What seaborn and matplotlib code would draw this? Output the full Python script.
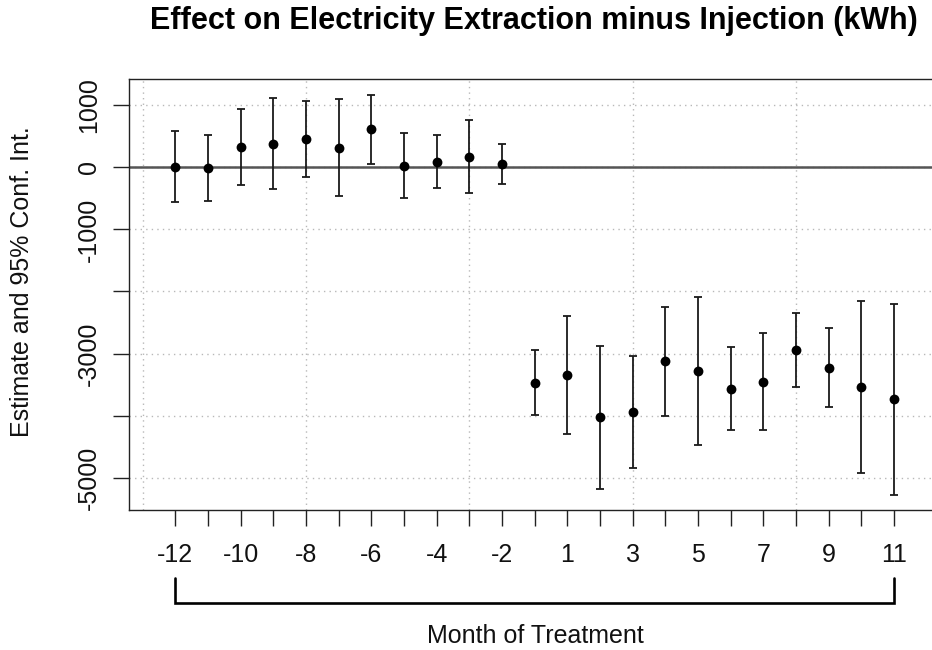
import numpy as np
import pandas as pd
import matplotlib
matplotlib.use("Agg")
import matplotlib.pyplot as plt
import matplotlib.transforms as mtransforms
import seaborn as sns

# Event-study estimates by month relative to treatment (month -1 is the reference)
months = [-12, -11, -10, -9, -8, -7, -6, -5, -4, -3, -2,
          0, 1, 2, 3, 4, 5, 6, 7, 8, 9, 10, 11]
estimate = [0, -16, 322, 370, 456, 316, 612, 21, 91, 171, 48,
            -3469, -3340, -4026, -3945, -3124, -3285, -3570, -3452, -2937, -3227, -3538, -3731]
ci_low = [-564, -543, -285, -354, -156, -457, 58, -494, -328, -408, -274,
          -3984, -4290, -5180, -4847, -4000, -4477, -4235, -4225, -3533, -3855, -4928, -5272]
ci_high = [580, 515, 934, 1111, 1073, 1095, 1169, 552, 515, 757, 370,
           -2947, -2390, -2873, -3044, -2250, -2089, -2899, -2663, -2341, -2588, -2148, -2201]

y_ticks = [1000, 0, -1000, -2000, -3000, -4000, -5000]
y_tick_labels = ["1000", "0", "-1000", "", "-3000", "", "-5000"]
x_tick_labels = ["-12", "", "-10", "", "-8", "", "-6", "", "-4", "", "-2",
                 "", "1", "", "3", "", "5", "", "7", "", "9", "", "11"]
grid_x = [0, 5, 10, 15, 20]

title = "Effect on Electricity Extraction minus Injection (kWh)"
x_label = "Month of Treatment"
y_label = "Estimate and 95% Conf. Int."

sns.set_style("white")
plt.rcParams["font.family"] = ["Liberation Sans", "DejaVu Sans"]

df = pd.DataFrame({
    "pos": np.arange(1, len(months) + 1),
    "month": months,
    "estimate": estimate,
    "low": ci_low,
    "high": ci_high,
})

fig = plt.figure(figsize=(9.32, 6.5), dpi=100)
ax = fig.add_axes([0.1387, 0.2154, 0.8666, 0.6635])

# dotted reference grid
for gx in grid_x:
    ax.axvline(gx, color="#b8b8b8", lw=1.0, ls=(0, (1, 3)), zorder=0)
for gy in y_ticks:
    ax.axhline(gy, color="#b8b8b8", lw=1.0, ls=(0, (1, 3)), zorder=0)

ax.axhline(0, color="#555555", lw=1.8, zorder=1)

# confidence intervals
ax.errorbar(df["pos"], df["estimate"],
            yerr=[df["estimate"] - df["low"], df["high"] - df["estimate"]],
            fmt="none", ecolor="#1a1a1a", elinewidth=1.3, capsize=3.2,
            capthick=1.3, zorder=2)
sns.scatterplot(data=df, x="pos", y="estimate", ax=ax, color="black",
                s=50, edgecolor="black", linewidth=0, zorder=3, legend=False)

ax.set_xlim(-0.41, 24.31)
ax.set_ylim(-5519, 1427)

ax.set_xticks(df["pos"])
ax.set_xticklabels(x_tick_labels)
ax.set_yticks(y_ticks)
ax.set_yticklabels(y_tick_labels, rotation=90, va="center")
ax.tick_params(axis="both", which="major", direction="out", length=11.5,
               width=1.0, color="#222222", labelsize=18, labelcolor="#111111",
               bottom=True, left=True, top=False, right=False)
ax.tick_params(axis="x", pad=12)
ax.tick_params(axis="y", pad=9)
ax.set_xlabel("")
ax.set_ylabel("")

for sp in ax.spines.values():
    sp.set_color("#222222")
    sp.set_linewidth(1.0)

# bracket spanning the event window
tr = mtransforms.blended_transform_factory(ax.transData, ax.transAxes)
x0, x1 = df["pos"].iloc[0], df["pos"].iloc[-1]
ax.plot([x0, x0, x1, x1], [-0.1577, -0.2156, -0.2156, -0.1577],
        transform=tr, color="black", lw=1.9, clip_on=False,
        solid_joinstyle="miter")

fig.text(0.574, 0.0108, x_label, ha="center", va="baseline", fontsize=18,
         color="#111111")
fig.text(22 / 932, 1 - 282 / 650, y_label, ha="center", va="center",
         rotation=90, fontsize=18, color="#111111")
fig.text(534 / 932, 1 - 28.5 / 650, title, ha="center", va="baseline",
         fontsize=22, fontweight="bold", color="black")

fig.savefig("out.png", dpi=100)
